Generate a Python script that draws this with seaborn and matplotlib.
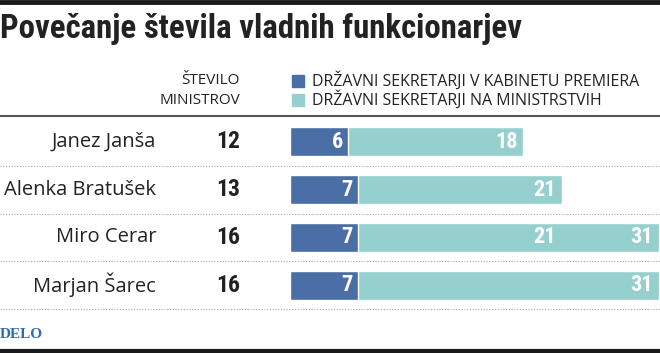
import seaborn as sns
import matplotlib.pyplot as plt
import matplotlib.transforms as mtransforms
from matplotlib.lines import Line2D
from matplotlib import font_manager
import pandas as pd

# data
names = ['Janez Janša', 'Alenka Bratušek', 'Miro Cerar', 'Marjan Šarec']
ministers = [12, 13, 16, 16]
cabinet = [6, 7, 7, 7]
ministries = [18, 21, 31, 31]
mid_marks = [None, None, 21, None]

title = 'Povečanje števila vladnih funkcionarjev'
legend_labels = ['DRŽAVNI SEKRETARJI V KABINETU PREMIERA', 'DRŽAVNI SEKRETARJI NA MINISTRSTVIH']
header = ['ŠTEVILO', 'MINISTROV']

dark = '#4a6ea6'
light = '#95d0cf'

available = {f.name for f in font_manager.fontManager.ttflist}


def pick(*cands):
    for c in cands:
        if c in available:
            return c
    return 'DejaVu Sans'


cond = pick('Roboto Condensed', 'Liberation Sans Narrow', 'Open Sans Condensed', 'DejaVu Sans')
cond_kw = {'family': cond}
if cond == 'DejaVu Sans':
    cond_kw['stretch'] = 'condensed'
body = pick('Open Sans', 'Noto Sans', 'DejaVu Sans')

sns.set_theme(style='white')
plt.rcParams['font.family'] = [body, 'DejaVu Sans']

df = pd.DataFrame({'name': names, 'cabinet': cabinet, 'ministries': ministries})
df['total'] = df['cabinet'] + df['ministries']

W, H = 660, 353
fig = plt.figure(figsize=(W / 100, H / 100), dpi=100)
fig.patch.set_facecolor('white')

# axes spans bars area: x 290..660 px, rows 118..309 px from top
ax = fig.add_axes([290 / W, (H - 309) / H, 370 / W, (309 - 118) / H])
sns.barplot(data=df, x='total', y='name', color=light, saturation=1, width=0.61,
            errorbar=None, ax=ax)
sns.barplot(data=df, x='cabinet', y='name', color=dark, saturation=1, width=0.61,
            errorbar=None, ax=ax)
ax.set_xlim(0, 38.15)
ax.set_ylim(3.5, -0.5)
ax.axis('off')

off = 0.55
for i, row in df.iterrows():
    ax.text(row['cabinet'] - off, i, str(row['cabinet']), ha='right', va='center',
            color='white', fontsize=16, fontweight='bold', **cond_kw)
    ax.text(row['total'] - off, i, str(row['ministries']), ha='right', va='center',
            color='white', fontsize=16, fontweight='bold', **cond_kw)
    if mid_marks[i] is not None:
        ax.text(row['cabinet'] + mid_marks[i] - off, i, str(mid_marks[i]), ha='right',
                va='center', color='white', fontsize=16, fontweight='bold', **cond_kw)

# names and minister counts sit left of the bars
blend = mtransforms.blended_transform_factory(fig.transFigure, ax.transData)
for i, (n, m) in enumerate(zip(names, ministers)):
    ax.text(156 / W, i, n, transform=blend, ha='right', va='center', fontsize=14.5,
            color='#222222')
    ax.text(228 / W, i, str(m), transform=blend, ha='center', va='center', fontsize=17,
            fontweight='bold', color='#222222', **cond_kw)

for y in [0.5, 1.5, 2.5, 3.5]:
    fig.add_artist(Line2D([0, 1], [y, y], transform=blend, color='#aaaaaa',
                          linewidth=0.8, linestyle=(0, (1, 1.5))))


def fy(px):
    return 1 - px / H


# frame lines
fig.add_artist(Line2D([0, 1], [fy(2), fy(2)], color='#1a1a1a', linewidth=3.5))
fig.add_artist(Line2D([0, 1], [fy(116), fy(116)], color='#555555', linewidth=1.5))
fig.add_artist(Line2D([0, 1], [fy(351), fy(351)], color='#1a1a1a', linewidth=3))

fig.text(0 / W, fy(29), title, ha='left', va='center', fontsize=23.7, fontweight='bold',
         color='#222222', **cond_kw)

for k, (h, lab, col) in enumerate(zip(header, legend_labels, [dark, light])):
    yc = 81 + k * 19
    fig.text(240 / W, fy(yc), h, ha='right', va='center', fontsize=11, color='#222222')
    fig.patches.append(plt.Rectangle((292 / W, fy(yc + 6)), 12 / W, 12 / H,
                                     transform=fig.transFigure, color=col))
    fig.text(312 / W, fy(yc), lab, ha='left', va='center', fontsize=11.5, color='#222222')

fig.text(0, fy(334), 'DELO', ha='left', va='center', fontsize=11, fontweight='bold',
         color='#2c6cb0', family=['Liberation Serif', 'DejaVu Serif'])

fig.savefig('out.png', dpi=100, facecolor='white')
